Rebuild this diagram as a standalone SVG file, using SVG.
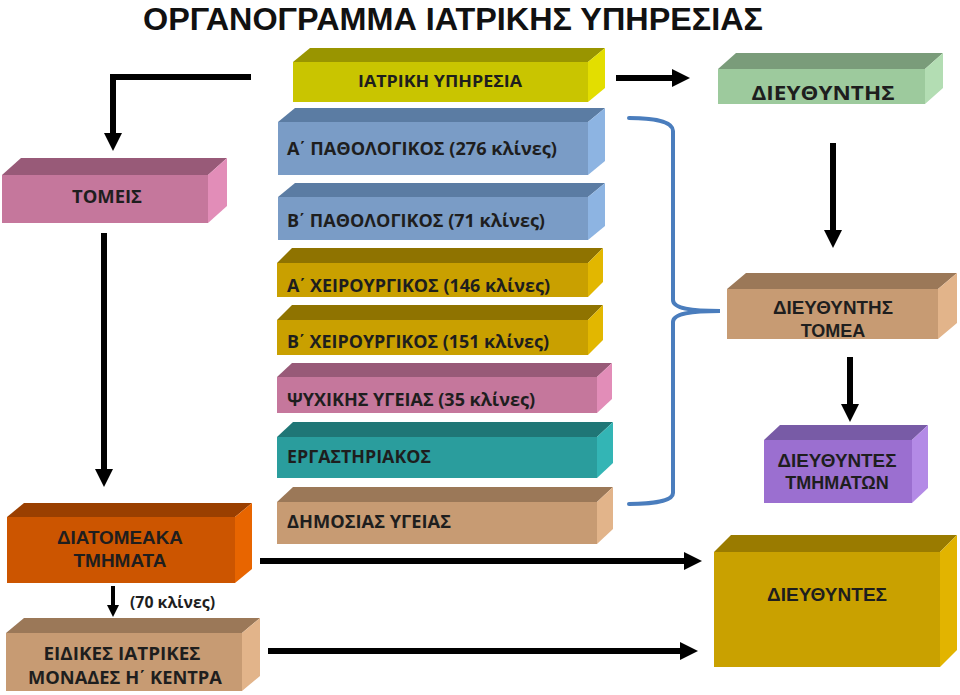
<svg xmlns="http://www.w3.org/2000/svg" width="960" height="695" viewBox="0 0 960 695">
<defs>
<marker id="ah" viewBox="0 0 10 10" refX="0" refY="5" markerWidth="3" markerHeight="3" orient="auto" markerUnits="strokeWidth">
<path d="M0,0 L10,5 L0,10 z" fill="#000"/>
</marker>
</defs>
<style>
.c{font-family:"Open Sans","Noto Sans","DejaVu Sans",sans-serif;font-weight:bold;fill:#1e1e1e}
.a{font-family:"Liberation Sans",Arial,sans-serif;font-weight:bold;fill:#1e1e1e;text-anchor:middle}
.m{text-anchor:middle}
.tn{font-family:"Liberation Sans",Arial,sans-serif}
.ln{fill:none;stroke:#000;stroke-width:6;marker-end:url(#ah)}
.br{fill:none;stroke:#4a7dbd;stroke-width:4;stroke-linecap:round}
.olv .f{fill:#c9c500}.olv .t{fill:#999500}.olv .s{fill:#e3de00}
.blu .f{fill:#7a9cc6}.blu .t{fill:#5b7ca3}.blu .s{fill:#8db4e2}
.gld .f{fill:#c9a000}.gld .t{fill:#8f7300}.gld .s{fill:#e2b700}
.pnk .f{fill:#c5779c}.pnk .t{fill:#985a78}.pnk .s{fill:#e28db8}
.tea .f{fill:#2a9d9d}.tea .t{fill:#1f7676}.tea .s{fill:#33b5b5}
.tan .f{fill:#c79b73}.tan .t{fill:#9b7858}.tan .s{fill:#e2b48a}
.grn .f{fill:#9dca9d}.grn .t{fill:#7a9c7a}.grn .s{fill:#b3ddb3}
.pur .f{fill:#9b6fd0}.pur .t{fill:#785ba6}.pur .s{fill:#b38ae6}
.org .f{fill:#cc5500}.org .t{fill:#9a3f00}.org .s{fill:#e86500}
.gl2 .f{fill:#c9a100}.gl2 .t{fill:#9a7b00}.gl2 .s{fill:#e2b400}
</style>
<rect width="960" height="695" fill="#fff"/>
<text x="143" y="30" font-family="'Liberation Sans',Arial,sans-serif" font-weight="bold" fill="#111" font-size="32" textLength="620" lengthAdjust="spacingAndGlyphs">ΟΡΓΑΝΟΓΡΑΜΜΑ ΙΑΤΡΙΚΗΣ ΥΠΗΡΕΣΙΑΣ</text>

<g id="iatriki" class="olv">
<rect class="f" x="293" y="62" width="295" height="40"/>
<polygon class="t" points="293,62 310,48 605,48 588,62"/>
<polygon class="s" points="588,62 605,48 605,88 588,102"/>
<text class="c m" x="440" y="87" font-size="16" textLength="164" lengthAdjust="spacingAndGlyphs">ΙΑΤΡΙΚΗ ΥΠΗΡΕΣΙΑ</text>
</g>
<g id="pathA" class="blu">
<rect class="f" x="278" y="122" width="310" height="53"/>
<polygon class="t" points="278,122 295,108 605,108 588,122"/>
<polygon class="s" points="588,122 605,108 605,161 588,175"/>
<text class="c" x="287" y="155" font-size="18" textLength="270" lengthAdjust="spacingAndGlyphs">Α<tspan class="tn">΄</tspan> ΠΑΘΟΛΟΓΙΚΟΣ (276 κλίνες)</text>
</g>
<g id="pathB" class="blu">
<rect class="f" x="278" y="197" width="310" height="43"/>
<polygon class="t" points="278,197 295,183 605,183 588,197"/>
<polygon class="s" points="588,197 605,183 605,226 588,240"/>
<text class="c" x="287" y="227" font-size="18" textLength="258" lengthAdjust="spacingAndGlyphs">Β<tspan class="tn">΄</tspan> ΠΑΘΟΛΟΓΙΚΟΣ (71 κλίνες)</text>
</g>
<g id="xeirA" class="gld">
<rect class="f" x="277" y="263" width="311" height="34"/>
<polygon class="t" points="277,263 292,248 603,248 588,263"/>
<polygon class="s" points="588,263 603,248 603,282 588,297"/>
<text class="c" x="287" y="292" font-size="18" textLength="263" lengthAdjust="spacingAndGlyphs">Α<tspan class="tn">΄</tspan> ΧΕΙΡΟΥΡΓΙΚΟΣ (146 κλίνες)</text>
</g>
<g id="xeirB" class="gld">
<rect class="f" x="277" y="320" width="311" height="35"/>
<polygon class="t" points="277,320 292,305 603,305 588,320"/>
<polygon class="s" points="588,320 603,305 603,340 588,355"/>
<text class="c" x="287" y="348" font-size="18" textLength="262" lengthAdjust="spacingAndGlyphs">Β<tspan class="tn">΄</tspan> ΧΕΙΡΟΥΡΓΙΚΟΣ (151 κλίνες)</text>
</g>
<g id="psych" class="pnk">
<rect class="f" x="277" y="377" width="320" height="36"/>
<polygon class="t" points="277,377 292,363 612,363 597,377"/>
<polygon class="s" points="597,377 612,363 612,399 597,413"/>
<text class="c" x="287" y="406" font-size="18" textLength="248" lengthAdjust="spacingAndGlyphs">ΨΥΧΙΚΗΣ ΥΓΕΙΑΣ (35 κλίνες)</text>
</g>
<g id="erg" class="tea">
<rect class="f" x="277" y="437" width="320" height="41"/>
<polygon class="t" points="277,437 293,422 613,422 597,437"/>
<polygon class="s" points="597,437 613,422 613,463 597,478"/>
<text class="c" x="287" y="463" font-size="18" textLength="144" lengthAdjust="spacingAndGlyphs">ΕΡΓΑΣΤΗΡΙΑΚΟΣ</text>
</g>
<g id="dimos" class="tan">
<rect class="f" x="277" y="502" width="320" height="42"/>
<polygon class="t" points="277,502 293,487 613,487 597,502"/>
<polygon class="s" points="597,502 613,487 613,529 597,544"/>
<text class="c" x="287" y="528" font-size="18" textLength="164" lengthAdjust="spacingAndGlyphs">ΔΗΜΟΣΙΑΣ ΥΓΕΙΑΣ</text>
</g>
<g id="tomeis" class="pnk">
<rect class="f" x="2" y="175" width="206" height="48"/>
<polygon class="t" points="2,175 21,158 227,158 208,175"/>
<polygon class="s" points="208,175 227,158 227,206 208,223"/>
<text class="c m" x="107" y="203" font-size="18" textLength="70" lengthAdjust="spacingAndGlyphs">ΤΟΜΕΙΣ</text>
</g>
<g id="dieythyntis" class="grn">
<rect class="f" x="718" y="69" width="207" height="35"/>
<polygon class="t" points="718,69 736,53 943,53 925,69"/>
<polygon class="s" points="925,69 943,53 943,88 925,104"/>
<text class="c m" x="823" y="100" font-size="20" textLength="143" lengthAdjust="spacingAndGlyphs">ΔΙΕΥΘΥΝΤΗΣ</text>
</g>
<g id="tomea" class="tan">
<rect class="f" x="727" y="289" width="211" height="50"/>
<polygon class="t" points="727,289 746,273 957,273 938,289"/>
<polygon class="s" points="938,289 957,273 957,323 938,339"/>
<text class="a" x="833" y="314" font-size="18" textLength="120" lengthAdjust="spacingAndGlyphs">ΔΙΕΥΘΥΝΤΗΣ</text>
<text class="a" x="833" y="337" font-size="18">ΤΟΜΕΑ</text>
</g>
<g id="tmimaton" class="pur">
<rect class="f" x="764" y="440" width="148" height="63"/>
<polygon class="t" points="764,440 780,425 928,425 912,440"/>
<polygon class="s" points="912,440 928,425 928,488 912,503"/>
<text class="a" x="837" y="467" font-size="18" textLength="119" lengthAdjust="spacingAndGlyphs">ΔΙΕΥΘΥΝΤΕΣ</text>
<text class="a" x="837" y="489" font-size="18">ΤΜΗΜΑΤΩΝ</text>
</g>
<g id="diatomeaka" class="org">
<rect class="f" x="7" y="517" width="228" height="66"/>
<polygon class="t" points="7,517 24,503 252,503 235,517"/>
<polygon class="s" points="235,517 252,503 252,569 235,583"/>
<text class="a" x="120" y="544" font-size="19" textLength="126" lengthAdjust="spacingAndGlyphs">ΔΙΑΤΟΜΕΑΚΑ</text>
<text class="a" x="120" y="567" font-size="19">ΤΜΗΜΑΤΑ</text>
</g>
<g id="eidikes" class="tan">
<rect class="f" x="6" y="633" width="236" height="58"/>
<polygon class="t" points="6,633 24,618 260,618 242,633"/>
<polygon class="s" points="242,633 260,618 260,676 242,691"/>
<text class="c m" x="122" y="660" font-size="18" textLength="157" lengthAdjust="spacingAndGlyphs">ΕΙΔΙΚΕΣ ΙΑΤΡΙΚΕΣ</text>
<text class="c m" x="125" y="684" font-size="18" textLength="194" lengthAdjust="spacingAndGlyphs">ΜΟΝΑΔΕΣ Η<tspan class="tn">΄</tspan> ΚΕΝΤΡΑ</text>
</g>
<g id="dieythyntes" class="gl2">
<rect class="f" x="714" y="552" width="226" height="115"/>
<polygon class="t" points="714,552 731,535 957,535 940,552"/>
<polygon class="s" points="940,552 957,535 957,650 940,667"/>
<text class="a" x="827" y="601" font-size="19" textLength="120" lengthAdjust="spacingAndGlyphs">ΔΙΕΥΘΥΝΤΕΣ</text>
</g>

<g id="connectors">
<path class="ln" d="M251,77 H113 V133"/>
<path class="ln" d="M616,78 H672"/>
<path class="ln" d="M833,143 V230"/>
<path class="ln" d="M850,357 V404"/>
<path class="ln" d="M104,233 V469"/>
<path class="ln" d="M113,586 V605" style="stroke-width:4"/>
<path class="ln" d="M260,561 H684"/>
<path class="ln" d="M268,651 H680"/>
<path class="br" d="M629,118 C652,118 673,121 673,131 V300 C673,308 690,311 720,311 C690,311 673,314 673,322 V493 C673,501 652,504 629,504"/>
</g>
<text class="c" x="130" y="608" font-size="16" textLength="85" lengthAdjust="spacingAndGlyphs">(70 κλίνες)</text>
</svg>
